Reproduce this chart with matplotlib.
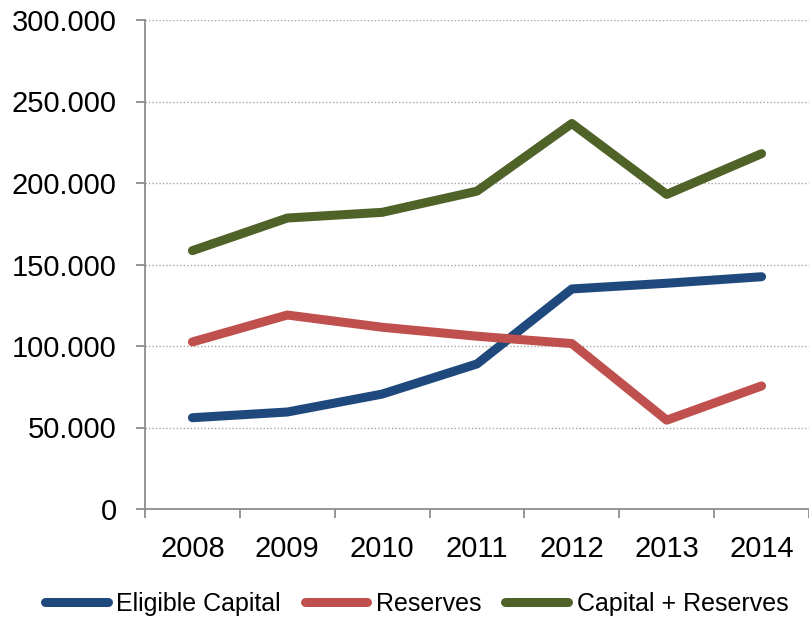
import matplotlib.pyplot as plt
from matplotlib.ticker import FuncFormatter

years = ['2008', '2009', '2010', '2011', '2012', '2013', '2014']
eligible_capital = [56000, 59500, 70500, 89000, 135000, 138500, 142500]
reserves = [102500, 119000, 111500, 106000, 101500, 54500, 75500]
capital_reserves = [158500, 178500, 182000, 195000, 236500, 193000, 218000]

plt.rcParams['font.family'] = ['Liberation Sans', 'DejaVu Sans']

def thousands(v, pos):
    if v == 0:
        return '0'
    return f'{int(v):,}'.replace(',', '.')

fig = plt.figure(figsize=(8.09, 6.2), dpi=100)
ax = fig.add_axes([145 / 809, 1 - 509 / 620, 664 / 809, 489 / 620])

x = range(len(years))
ax.plot(x, eligible_capital, color='#1F497D', lw=6.5, solid_capstyle='round', label='Eligible Capital')
ax.plot(x, reserves, color='#C0504D', lw=6.5, solid_capstyle='round', label='Reserves')
ax.plot(x, capital_reserves, color='#4F6228', lw=6.5, solid_capstyle='round', label='Capital + Reserves')

ax.set_ylim(0, 300000)
ax.set_xlim(-0.5, 6.5)
ax.set_yticks(range(0, 300001, 50000))
ax.yaxis.set_major_formatter(FuncFormatter(thousands))

# tick marks sit between categories, labels sit on them
ax.set_xticks([i - 0.5 for i in range(len(years) + 1)])
ax.set_xticklabels([])
ax.set_xticks(list(x), minor=True)
ax.set_xticklabels(years, minor=True)
ax.tick_params(axis='x', which='major', length=6.5, width=1.3, color='#8c8c8c', direction='out')
ax.tick_params(axis='x', which='minor', length=0, pad=19, labelsize=21)
ax.tick_params(axis='y', length=6.5, width=1.3, color='#8c8c8c', pad=14, labelsize=21)

for v in range(50000, 300001, 50000):
    ax.axhline(v, color='#a6a6a6', lw=1, ls=(0, (1, 1.5)), zorder=0)

for side in ['top', 'right']:
    ax.spines[side].set_visible(False)
for side in ['left', 'bottom']:
    ax.spines[side].set_color('#8c8c8c')
    ax.spines[side].set_linewidth(1.3)

fig.legend(loc='lower center', bbox_to_anchor=(0.515, -0.03), ncol=3, frameon=False,
           fontsize=18, handlelength=2.5, handletextpad=0.35, columnspacing=0.95)

fig.savefig('out.png', dpi=100)
